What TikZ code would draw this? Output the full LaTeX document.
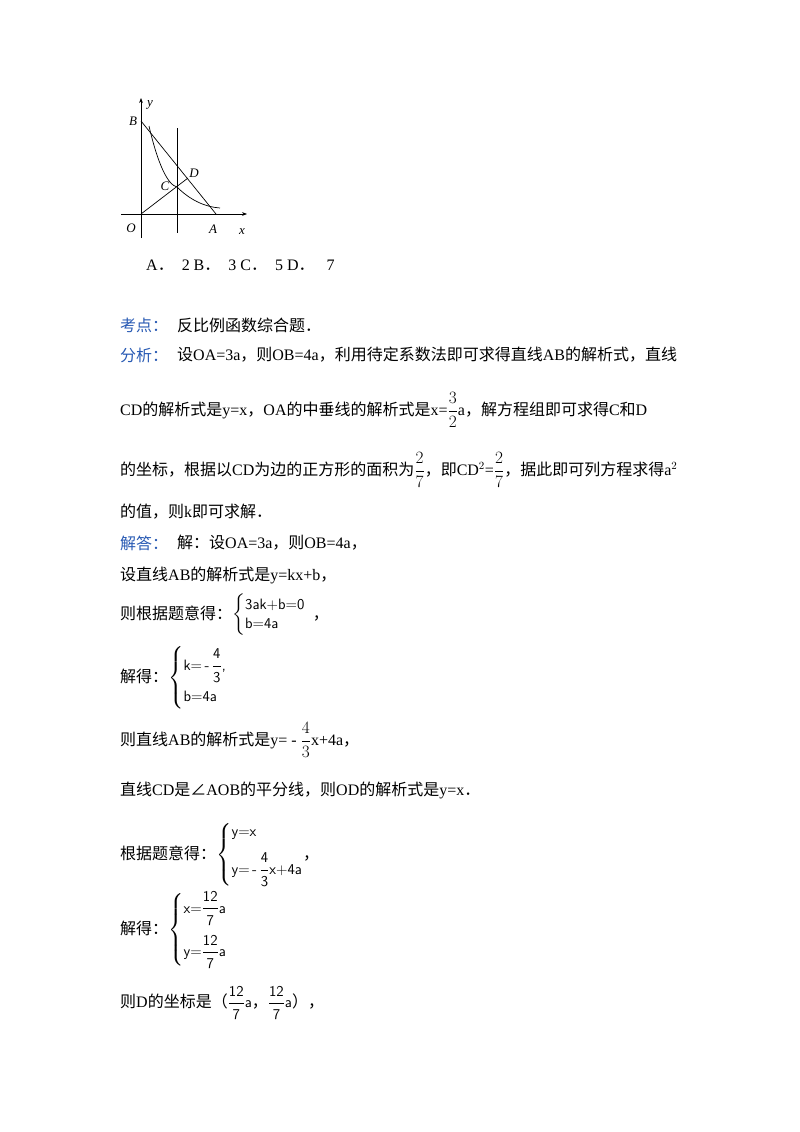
\documentclass[tikz,border=0pt]{standalone}
\usepackage{amsmath}
\usepackage{fontspec}
\setmainfont{Liberation Serif}
\newfontfamily\cjk{Noto Sans CJK SC}
\usetikzlibrary{arrows.meta}
\definecolor{lab}{RGB}{40,90,180}
\newcommand{\sft}[1]{\mbox{\sffamily\fontsize{15}{18}\selectfont #1}}
\begin{document}
\begin{tikzpicture}[x=1pt,y=-1pt,
  txt/.style={anchor=west,inner sep=0pt,font=\fontsize{16}{19}\selectfont},
  glab/.style={inner sep=0pt,font=\fontsize{13}{14}\selectfont\itshape},
  ln/.style={line width=0.7pt}]
\useasboundingbox[fill=white] (0,0) rectangle (800,1132);
% diagram
\coordinate (O) at (141,214);
\coordinate (B) at (141,121);
\coordinate (A) at (216,214);
\coordinate (C) at (177,187);
\coordinate (D) at (188,178);
\coordinate (xe) at (247,214);
\coordinate (xs) at (121,214);
\coordinate (ye) at (141,98);
\coordinate (ys) at (141,238);
\coordinate (vt) at (177,128);
\coordinate (vb) at (177,233);
\draw[ln,-{Stealth[length=5pt]}] (xs) -- (xe);
\draw[ln,-{Stealth[length=5pt]}] (ys) -- (ye);
\draw[ln] (B) -- (A);
\draw[ln] (O) -- (D);
\draw[ln] (vt) -- (vb);
\draw[ln] (149,126) .. controls (158,165) and (168,185) .. (C) .. controls (190,200) and (205,207) .. (220,208);
\node[glab] (lB) at (133,121) {B};
\node[glab] (ly) at (150,105) {y};
\node[glab] (lD) at (194,173) {D};
\node[glab] (lC) at (165,186) {C};
\node[glab] (lO) at (131,228) {O};
\node[glab] (lA) at (213,229) {A};
\node[glab] (lx) at (242,232) {x};
% text
\node[txt] (t1) at (146,265) {A\cjk ．\rmfamily\ \ 2 B\cjk ．\rmfamily\ \ 3 C\cjk ．\rmfamily\ \ 5 D\cjk ．\rmfamily\ \ \ 7};
\node[txt,text=lab] (k1) at (120,325) {\cjk 考点：};
\node[txt] (k2) at (177,325) {\cjk 反比例函数综合题．};
\node[txt,text=lab] (f1) at (120,355) {\cjk 分析：};
\node[txt] (f2) at (177,355) {\cjk 设\rmfamily OA=3a\cjk ，则\rmfamily OB=4a\cjk ，利用待定系数法即可求得直线\rmfamily AB\cjk 的解析式，直线};
\node[txt] (f3) at (120,410) {\rmfamily CD\cjk 的解析式是\rmfamily y=x\cjk ，\rmfamily OA\cjk 的中垂线的解析式是\rmfamily x=$\dfrac{3}{2}$a\cjk ，解方程组即可求得\rmfamily C\cjk 和\rmfamily D};
\node[txt] (f4) at (120,470) {\cjk 的坐标，根据以\rmfamily CD\cjk 为边的正方形的面积为\rmfamily $\dfrac{2}{7}$\cjk ，即\rmfamily CD$^2$=$\dfrac{2}{7}$\cjk ，据此即可列方程求得\rmfamily a$^2$};
\node[txt] (f5) at (120,512) {\cjk 的值，则\rmfamily k\cjk 即可求解．};
\node[txt,text=lab] (j1) at (120,543) {\cjk 解答：};
\node[txt] (j2) at (177,543) {\cjk 解：设\rmfamily OA=3a\cjk ，则\rmfamily OB=4a\cjk ，};
\node[txt] (s1) at (120,575) {\cjk 设直线\rmfamily AB\cjk 的解析式是\rmfamily y=kx+b\cjk ，};
\node[txt] (s2) at (120,615) {\cjk 则根据题意得：$\left\{\begin{array}{@{}l@{}}\sft{3ak+b=0}\\ \sft{b=4a}\end{array}\right.$\ \ \cjk ，};
\node[txt] (s3) at (120,678) {\cjk 解得：$\left\{\begin{array}{@{}l@{}}\sft{k=\,-\,}\dfrac{\sft{4}}{\sft{3}}\sft{,}\\[12pt] \sft{b=4a}\end{array}\right.$};
\node[txt] (s4) at (120,740) {\cjk 则直线\rmfamily AB\cjk 的解析式是\rmfamily y= - $\dfrac{4}{3}$x+4a\cjk ，};
\node[txt] (s5) at (120,790) {\cjk 直线\rmfamily CD\cjk 是∠\rmfamily AOB\cjk 的平分线，则\rmfamily OD\cjk 的解析式是\rmfamily y=x\cjk ．};
\node[txt] (s6) at (120,855) {\cjk 根据题意得：$\left\{\begin{array}{@{}l@{}}\sft{y=x}\\[10pt] \sft{y=\,-\,}\dfrac{\sft{4}}{\sft{3}}\sft{x+4a}\end{array}\right.$\cjk ，};
\node[txt] (s7) at (120,930) {\cjk 解得：$\left\{\begin{array}{@{}l@{}}\sft{x=}\dfrac{\sft{12}}{\sft{7}}\sft{a}\\[16pt] \sft{y=}\dfrac{\sft{12}}{\sft{7}}\sft{a}\end{array}\right.$};
\node[txt] (s8) at (120,1003) {\cjk 则\rmfamily D\cjk 的坐标是（$\dfrac{\sft{12}}{\sft{7}}\sft{a}$\cjk ，$\dfrac{\sft{12}}{\sft{7}}\sft{a}$\cjk ），};
\end{tikzpicture}
\end{document}
